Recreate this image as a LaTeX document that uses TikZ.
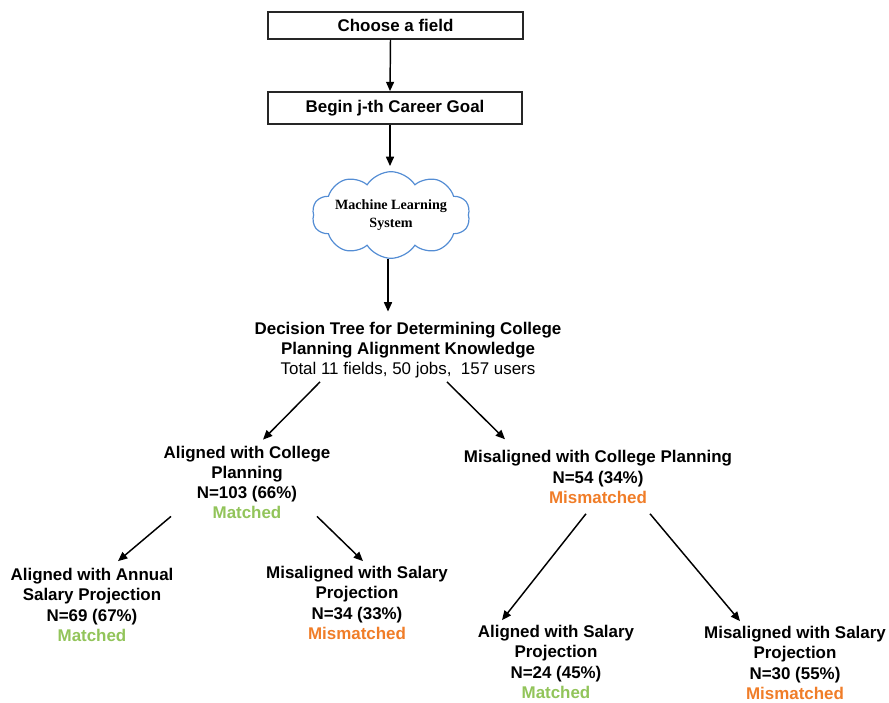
\documentclass[tikz,border=0pt]{standalone}
\usepackage{fontspec}
\setmainfont{Liberation Sans}
\newfontfamily\cloudfont{Liberation Serif}
\usetikzlibrary{arrows.meta,shapes.symbols,calc}
\definecolor{cloudblue}{RGB}{84,141,212}
\definecolor{matchgreen}{RGB}{146,196,90}
\definecolor{mismatchorange}{RGB}{240,125,40}
\tikzset{
    flow-box/.style = {draw=black!85, line width=1.3pt, rectangle, minimum width=191pt, inner sep=0pt, font=\fontsize{12.7}{15.2}\selectfont\bfseries},
    tree-text/.style = {align=center, inner sep=0pt, font=\fontsize{12.7}{15.2}\selectfont\bfseries},
    ml-cloud/.style = {draw=cloudblue, line width=0.9pt, cloud, cloud puffs=10, cloud puff arc=115, cloud ignores aspect, minimum width=118pt, minimum height=65pt, inner sep=0pt, align=center, font=\fontsize{10.6}{13.5}\selectfont\cloudfont\bfseries},
    flow-arrow/.style = {line width=1.1pt, -{Triangle[length=7pt,width=6pt]}},
}
\newcommand{\matched}{\textcolor{matchgreen}{Matched}}
\newcommand{\mismatched}{\textcolor{mismatchorange}{Mismatched}}

\begin{document}
\begin{tikzpicture}[x=0.75pt,y=-0.75pt]
\useasboundingbox (0,0) rectangle (889,703);
\node[flow-box, minimum height=20pt] (choose) at (395.5,25.5) {Choose a field};
\node[flow-box, minimum height=24pt] (career) at (395,108) {Begin j-th Career Goal};
\node[ml-cloud] (ml) at (391,215) {Machine Learning\\System};
\node[tree-text] (dtree) at (408,350) {Decision Tree for Determining College\\Planning Alignment Knowledge\\\mdseries Total 11 fields, 50 jobs,\ \ 157 users};
\node[tree-text] (aligned) at (247,482.5) {Aligned with College\\Planning\\N=103 (66\%)\\\matched};
\node[tree-text] (misaligned) at (598,477) {Misaligned with College Planning\\N=54 (34\%)\\\mismatched};
\node[tree-text] (annual) at (92,605) {Aligned with Annual\\Salary Projection\\N=69 (67\%)\\\matched};
\node[tree-text] (missalary) at (357,603) {Misaligned with Salary\\Projection\\N=34 (33\%)\\\mismatched};
\node[tree-text] (salary) at (556,662) {Aligned with Salary\\Projection\\N=24 (45\%)\\\matched};
\node[tree-text] (missalary2) at (795,663) {Misaligned with Salary\\Projection\\N=30 (55\%)\\\mismatched};

\draw[flow-arrow] ($(choose.south)+(-5,0)$) -- ($(career.north)+(-5,0)$);
\draw[flow-arrow] ($(career.south)+(-5,0)$) -- ($(ml.north)+(-1,-5)$);
\draw[flow-arrow] ($(ml.south)+(-3,0)$) -- ($(dtree.north)+(-20,-10)$);
\draw[flow-arrow] ($(dtree.south)+(-88,3.5)$) -- ($(aligned.north)+(16,-6)$);
\draw[flow-arrow] ($(dtree.south)+(39,3.5)$) -- ($(misaligned.north)+(-93,-11)$);
\draw[flow-arrow] ($(aligned.south)+(-76,-3)$) -- ($(annual.north)+(26,-7)$);
\draw[flow-arrow] ($(aligned.south)+(70,-3)$) -- ($(missalary.north)+(6,-5)$);
\draw[flow-arrow] ($(misaligned.south)+(-12,10)$) -- ($(salary.north)+(-54,-5)$);
\draw[flow-arrow] ($(misaligned.south)+(52,10)$) -- ($(missalary2.north)+(-55,-5)$);
\end{tikzpicture}
\end{document}
